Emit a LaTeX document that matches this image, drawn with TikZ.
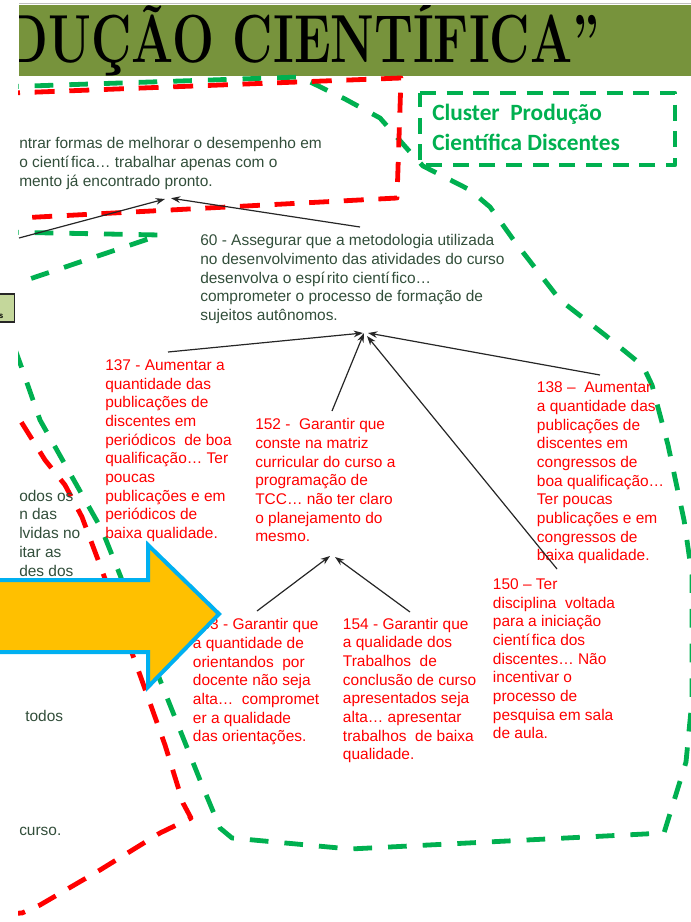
\documentclass[tikz,border=0pt]{standalone}
\usepackage{fontspec}
\usepackage{graphicx}
\usetikzlibrary{arrows.meta}
\newfontfamily\arialf{Liberation Sans}
\newfontfamily\calf{Carlito}
\definecolor{bandolive}{RGB}{119,147,60}
\definecolor{clgreen}{RGB}{0,176,80}
\definecolor{clred}{RGB}{255,0,0}
\definecolor{darktext}{RGB}{50,78,58}
\definecolor{arrowfill}{RGB}{255,192,0}
\definecolor{arrowedge}{RGB}{0,176,240}
\definecolor{boxfill}{RGB}{196,215,155}
\begin{document}
\begin{tikzpicture}[x=0.75pt,y=-0.75pt,
  gline/.style={draw=clgreen,line width=3.6pt,dash pattern=on 14pt off 12pt,line join=round},
  rline/.style={draw=clred,line width=3.6pt,dash pattern=on 15pt off 11pt,line join=round},
  txtblock/.style={font=\arialf\fontsize{11.6}{14}\selectfont,align=left,inner sep=0pt,
    anchor=north west,execute at begin node=\rule{0pt}{10pt}},
  redtext/.style={txtblock,text=clred},
  darkblock/.style={txtblock,text=darktext},
  frag/.style={font=\arialf\fontsize{11.6}{14}\selectfont,text=darktext,inner sep=0pt,anchor=base west},
  conn/.style={draw=black!85,line width=0.9pt,-{Stealth[length=7pt,width=5pt]}},
]
\useasboundingbox (0,0) rectangle (691,922);

% title band
\draw[gray!50,line width=0.75pt] (19,3) -- (691,3);
\fill[bandolive] (19,5) rectangle (691,76);
\begin{scope}
  \clip (19,5) rectangle (691,76);
  \node[anchor=base east,inner sep=0pt,font=\fontsize{51}{51}\bfseries\selectfont] (title) at (600,62)
    {\scalebox{0.73}[1]{PRODUÇÃO CIENTÍFICA”}};
\end{scope}

% cluster boundaries
\begin{scope}
  \clip (18,0) rectangle (691,922);
  % green cluster
  \draw[gline] (0,87) -- (300,77) -- (345,99) -- (380,118) -- (410,152) -- (423,166) -- (470,190)
    -- (490,207) -- (515,242) -- (560,300) -- (605,335) -- (643,366) -- (652,385) -- (668,445)
    -- (684,520) -- (692,575) -- (692,700) -- (686,762) -- (664,833) -- (350,849) -- (232,838)
    -- (220,828) -- (200,780) -- (160,680) -- (120,575) -- (102,530) -- (67,468) -- (40,420)
    -- (20,363) -- (8,330);
  \draw[gline] (0,232) -- (160,235) -- (0,289);
  % red clusters
  \draw[rline] (0,93.5) -- (401,78) -- (397,198) -- (0,219);
  \draw[rline] (0,395) -- (20,420) -- (45,460) -- (65,485) -- (82,517) -- (100,565) -- (140,675)
    -- (165,745) -- (183,803) -- (191,818) -- (160,833) -- (100,870) -- (40,905) -- (22,913) -- (0,914);
  % partly hidden text on the left
  \node[frag] (l1) at (19,501.7) {odos os};
  \node[frag] (l2) at (19,519.5) {n das};
  \node[frag] (l3) at (19,538.2) {lvidas no};
  \node[frag] (l4) at (19,557.5) {itar as};
  \node[frag] (l5) at (19,576.5) {des dos};
  \node[frag] (l6) at (25,721.7) {todos};
  \node[frag] (l7) at (19,835) {curso.};
\end{scope}

% cluster label
\draw[gline,dash pattern=on 12pt off 8pt] (420,93) -- (675,93) -- (675,165) -- (420,165) -- cycle;
\node[font=\calf\bfseries\fontsize{17.5}{22.5}\selectfont,text=clgreen,align=left,inner sep=0pt,
  anchor=north west,execute at begin node=\rule{0pt}{14pt}] (clabel) at (432,104)
  {Cluster~ Produção\\Científica Discentes};

% statements
\node[darkblock] (ntop) at (19,137.2)
  {ntrar formas de melhorar o desempenho em\\o cientí\hspace{1.5pt}fica… trabalhar apenas com o\\mento já encontrado pronto.};
\node[darkblock] (n60) at (200,234.2)
  {60 - Assegurar que a metodologia utilizada\\no desenvolvimento das atividades do curso\\desenvolva o espí\hspace{1.5pt}rito cientí\hspace{1.5pt}fico…\\comprometer o processo de formação de\\sujeitos autônomos.};
\node[redtext] (n137) at (105,359.4)
  {137 - Aumentar a\\quantidade das\\publicações de\\discentes em\\periódicos~ de boa\\qualificação… Ter\\poucas\\publicações e em\\periódicos de\\baixa qualidade.};
\node[redtext] (n152) at (255,418.4)
  {152 -~ Garantir que\\conste na matriz\\curricular do curso a\\programação de\\TCC… não ter claro\\o planejamento do\\mesmo.};
\node[redtext] (n138) at (536.7,381.7)
  {138 –~ Aumentar\\a quantidade das\\publicações de\\discentes em\\congressos de\\boa qualificação…\\Ter poucas\\publicações e em\\congressos de\\baixa qualidade.};
\node[redtext] (n150) at (492.7,578.4)
  {150 – Ter\\disciplina~ voltada\\para a iniciação\\cientí\hspace{1.5pt}fica dos\\discentes… Não\\incentivar o\\processo de\\pesquisa em sala\\de aula.};
\node[redtext] (n153) at (192.7,618.4)
  {153 - Garantir que\\a quantidade de\\orientandos~ por\\docente não seja\\alta…~ compromet\\er a qualidade\\das orientações.};
\node[redtext] (n154) at (342.7,617.7)
  {154 - Garantir que\\a qualidade dos\\Trabalhos~ de\\conclusão de curso\\apresentados seja\\alta… apresentar\\trabalhos~ de baixa\\qualidade.};

% block arrow
\draw[fill=arrowfill,draw=arrowedge,line width=3pt,line join=miter] (-10,580) -- (148,580) -- (148,545)
  -- (219,614) -- (148,687) -- (148,652) -- (-10,652) -- cycle;

% small box at the left edge
\draw[fill=boxfill,draw=black!85,line width=1.1pt] (-2,294) rectangle (14.5,322);
\node[anchor=base east,inner sep=0pt,font=\arialf\bfseries\fontsize{6}{7}\selectfont] (sbox) at (3.5,318) {s};

% links
\coordinate (cin) at (19,238);
\draw[conn] (cin) -- ([shift={(146,61.8)}]ntop.north west);
\draw[conn] ([shift={(160,-7.2)}]n60.north west) -- ([shift={(152,61)}]ntop.north west);
\draw[conn] ([shift={(63,-7.4)}]n137.north west) -- ([shift={(163,98.8)}]n60.north west);
\draw[conn] ([shift={(77,-7.4)}]n152.north west) -- ([shift={(164,98.8)}]n60.north west);
\draw[conn] ([shift={(63.3,-6.7)}]n138.north west) -- ([shift={(168,98.8)}]n60.north west);
\draw[conn] ([shift={(64.3,-9.4)}]n150.north west) -- ([shift={(167,101.8)}]n60.north west);
\draw[conn] ([shift={(64.3,-7.4)}]n153.north west) -- ([shift={(75,137.6)}]n152.north west);
\draw[conn] ([shift={(67.3,-5.7)}]n154.north west) -- ([shift={(80,138.6)}]n152.north west);
\end{tikzpicture}
\end{document}
